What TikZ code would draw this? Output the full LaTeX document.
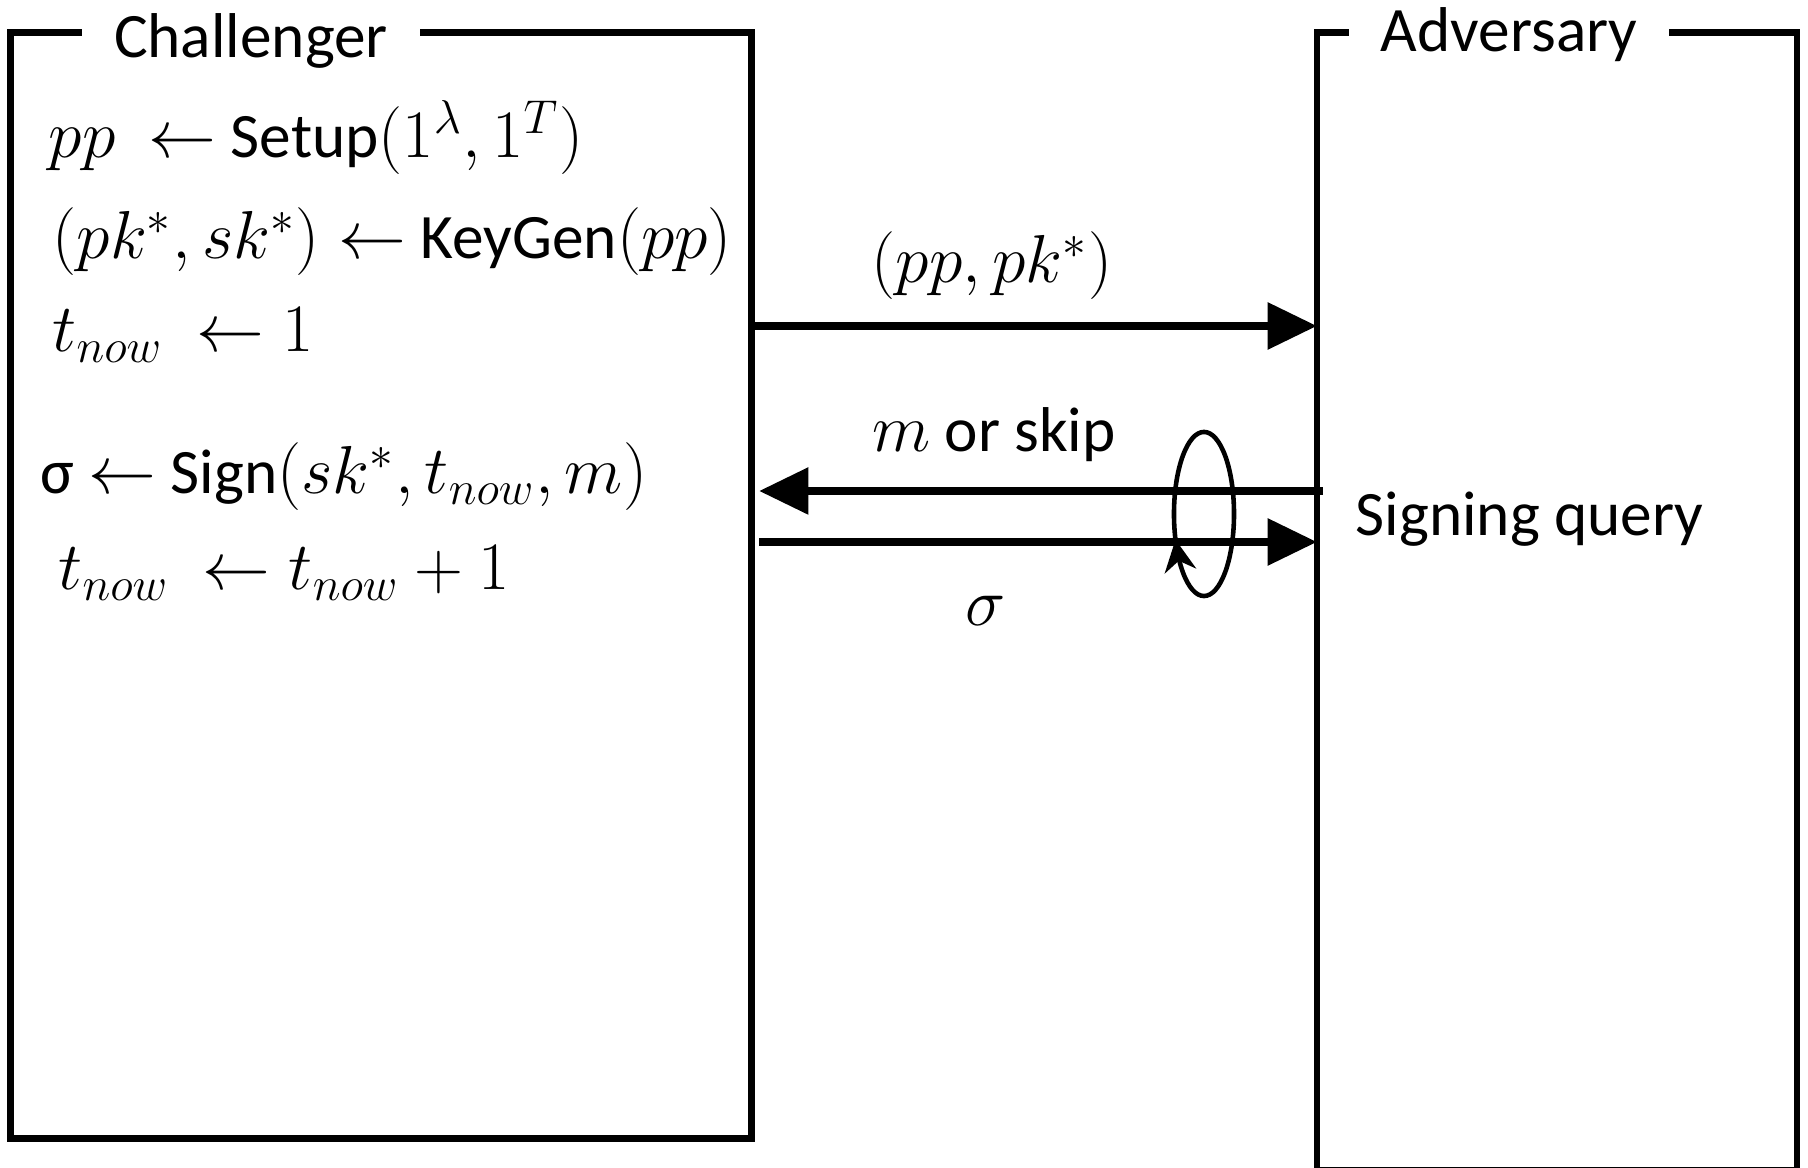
\documentclass[tikz,border=0pt]{standalone}
\usepackage{fix-cm}
\usepackage[no-math]{fontspec}
\setmainfont{Carlito}
\DeclareMathSizes{18}{19.3}{13.5}{10.5}
\usetikzlibrary{arrows.meta,shapes.geometric}
\tikzset{
  box/.style={draw, line width=1.9pt, inner sep=0pt, outer sep=0pt},
  title/.style={fill=white, inner xsep=9pt, inner ysep=3pt, anchor=base},
  code/.style={anchor=base west, inner sep=0pt},
  lbl/.style={anchor=base, inner sep=0pt},
  msg/.style={line width=2pt, -{Triangle[length=14pt,width=13pt]}},
}
\begin{document}
\begin{tikzpicture}[x=0.01cm, y=-0.01cm, font=\fontsize{18}{22}\selectfont]
\useasboundingbox (0,0) rectangle (1808,1168);
% the two parties
\node[box, minimum width=7.4cm, minimum height=11.05cm] (chal) at (381,585.5) {};
\node[box, minimum width=4.8cm, minimum height=11.37cm] (adv) at (1557,601.5) {};
\node[title] (chalname) at (251,58) {Challenger};
\node[title] (advname) at (1509,52) {Adversary};
% what the challenger does
\node[code] (setup) at (48,158) {$pp\ \leftarrow$ Setup$(1^{\lambda},1^{T})$};
\node[code] (keygen) at (52,259) {$(pk^{*},sk^{*})\leftarrow$ KeyGen$(pp)$};
\node[code] (init) at (52,352) {$t_{now}\ \leftarrow 1$};
\node[code] (sign) at (40,494) {σ $\leftarrow$ Sign$(sk^{*},t_{now},m)$};
\node[code] (tick) at (58,590) {$t_{now}\ \leftarrow t_{now}+1$};
% messages
\draw[msg] (chal.east |- 0,326) -- (adv.west |- 0,326);
\draw[msg] ([xshift=0.06cm]adv.west |- 0,491) -- ([xshift=0.08cm]chal.east |- 0,491);
\draw[msg] ([xshift=0.08cm]chal.east |- 0,542) -- (adv.west |- 0,542);
\node[lbl] (keys) at (992,283) {$(pp,pk^{*})$};
\node[lbl] (query) at (994,452) {$m$ or skip};
\node[lbl] (sig) at (986,626) {$\sigma$};
% the loop
\node[ellipse, draw, line width=1.3pt, minimum width=0.6cm, minimum height=1.64cm, inner sep=0pt, outer sep=0pt] (loop) at (1204,514) {};
\draw[line width=1.3pt, -{Stealth[length=9pt,width=9pt]}] (loop.236) -- (loop.222);
\node[code] (sq) at (1355,536) {Signing query};
\end{tikzpicture}
\end{document}
